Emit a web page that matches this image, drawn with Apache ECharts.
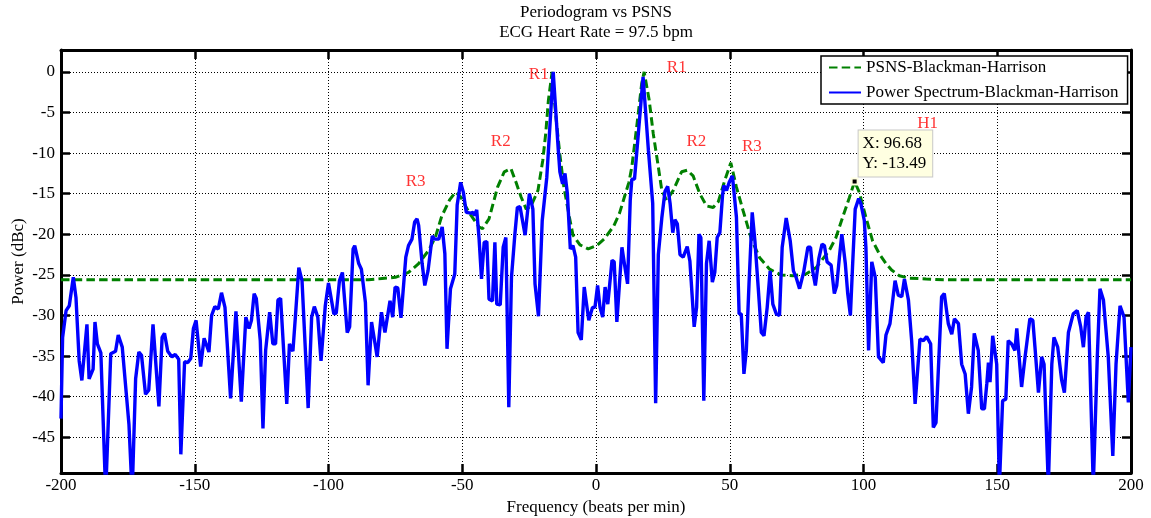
<!DOCTYPE html>
<html>
<head>
<meta charset="utf-8">
<script src="https://cdn.jsdelivr.net/npm/echarts@6.0.0/dist/echarts.min.js"></script>
<style>
  html, body { margin: 0; padding: 0; background: #ffffff; }
  #chart { width: 1151px; height: 518px; }
</style>
</head>
<body>
<div id="chart"></div>
<script>
// ---- Chart data ----------------------------------------------------------
const titleLines = ['Periodogram vs PSNS', 'ECG Heart Rate = 97.5 bpm'];
const seriesNames = ['PSNS-Blackman-Harrison', 'Power Spectrum-Blackman-Harrison'];

// PSNS envelope: [frequency (bpm), power (dBc)]
const psnsPoints = [
  [-200, -25.6], [-150, -25.6], [-100, -25.6], [-85, -25.6], [-80, -25.45], [-75, -25.3],
  [-70.1, -24.7], [-66.3, -23.6], [-62.6, -22.0], [-60.1, -20.4], [-57.7, -17.8], [-54.8, -15.8],
  [-52.5, -14.8], [-50.6, -15.4], [-47.5, -17.3], [-43.7, -19.1], [-42.4, -19.3], [-40.0, -18.1],
  [-36.8, -14.2], [-34.3, -12.3], [-31.8, -11.9], [-29.9, -13.6], [-28.0, -15.4], [-26.1, -16.9],
  [-24.3, -16.5], [-21.7, -14.6], [-19.9, -10.9], [-18.8, -7.6], [-17.8, -3.5], [-16.4, 0],
  [-15.0, -5.5], [-13.5, -10.2], [-12.0, -14.2], [-10.0, -17.8], [-8.6, -20.1], [-6.0, -21.3],
  [-2.9, -21.8], [0.2, -21.4], [3.0, -20.6], [6.6, -19.0], [8.8, -17.4], [10.9, -15.1],
  [12.3, -13.6], [13.4, -11.7], [15.2, -6.8], [17.1, -1.4], [18.0, 0], [19.9, -3.5],
  [21.4, -7.6], [23.3, -11.7], [24.6, -14.6], [26.4, -15.8], [28.9, -14.6], [32.0, -12.3],
  [34.1, -12.1], [36.3, -12.8], [38.8, -15.0], [41.3, -16.5], [43.8, -16.7], [45.7, -16.0],
  [48.1, -13.4], [50.4, -11.2], [52.5, -14.2], [55.0, -17.1], [58.1, -20.6], [61.2, -22.9],
  [64.9, -24.3], [69.2, -25.0], [73.6, -25.1], [78.5, -24.9], [82.3, -24.1], [87.2, -22.0],
  [89.7, -20.4], [92.2, -17.9], [94.7, -15.5], [96.68, -13.49], [98.4, -14.8], [100.9, -17.9],
  [103.4, -20.8], [105.9, -22.4], [108.4, -23.6], [110.5, -24.4], [113.4, -25.1], [117.0, -25.4],
  [123.4, -25.5], [130, -25.6], [150, -25.6], [200, -25.6]
];

// Periodogram: [frequency (bpm), power (dBc)]
const spectrumPoints = [
  [-200, -42.7], [-199.4, -32.7], [-198.1, -29.4], [-196.9, -28.8], [-195.4, -25.3], [-194.4, -27.8],
  [-193.2, -35.6], [-192.2, -38.0], [-190.3, -31.1], [-189.5, -37.8], [-188.0, -36.6], [-187.3, -30.8],
  [-186.4, -33.5], [-185.1, -34.6], [-183.3, -52], [-181.4, -34.7], [-179.6, -34.4], [-178.6, -32.4],
  [-177.1, -33.9], [-174.6, -43.4], [-173.4, -52], [-172.1, -37.8], [-170.9, -34.5], [-169.9, -34.9],
  [-168.4, -39.7], [-167.2, -39.2], [-165.6, -31.1], [-163.4, -41.2], [-162.2, -32.7], [-161.3, -32.2],
  [-160.1, -34.4], [-158.5, -35.1], [-157.3, -34.8], [-156.0, -35.4], [-155.2, -47.1], [-153.8, -35.7],
  [-152.6, -35.8], [-151.5, -35.3], [-150.5, -31.6], [-149.5, -30.6], [-147.8, -36.3], [-146.5, -32.8],
  [-144.7, -34.5], [-143.7, -30.0], [-142.5, -28.9], [-141.2, -29.2], [-140.0, -27.2], [-138.7, -29.0],
  [-136.6, -40.2], [-134.6, -29.5], [-132.6, -40.6], [-130.9, -30.2], [-129.7, -31.6], [-128.8, -30.6],
  [-127.8, -27.3], [-127.0, -27.9], [-125.5, -33.1], [-124.5, -43.9], [-123.5, -34.3], [-122.0, -29.6],
  [-120.8, -33.5], [-119.8, -33.5], [-118.9, -28.1], [-117.9, -27.9], [-115.6, -40.9], [-114.6, -33.5],
  [-113.3, -34.4], [-112.3, -29.8], [-111.1, -24.1], [-109.9, -25.7], [-107.6, -41.4], [-106.3, -30.2],
  [-105.3, -28.9], [-104.0, -30.2], [-102.8, -35.6], [-101.2, -28.8], [-100.0, -26.0], [-98.0, -29.8],
  [-97.1, -29.7], [-95.9, -25.7], [-94.8, -24.7], [-93.0, -32.1], [-92.1, -31.4], [-90.8, -21.8],
  [-90.2, -21.4], [-88.7, -23.6], [-87.7, -24.3], [-86.2, -28.4], [-85.2, -38.6], [-83.9, -30.8],
  [-81.8, -35.1], [-80.2, -29.6], [-78.9, -32.1], [-77.0, -28.2], [-76.0, -30.2], [-75.1, -26.5],
  [-74.1, -26.6], [-72.9, -30.3], [-71.1, -22.8], [-70.1, -21.4], [-68.8, -20.6], [-67.8, -18.5],
  [-66.9, -18.1], [-66.3, -18.9], [-65.0, -23.6], [-64.0, -26.3], [-62.8, -24.5], [-61.2, -20.2],
  [-60.3, -20.6], [-58.8, -20.6], [-57.5, -19.1], [-56.5, -22.4], [-55.7, -34.1], [-54.4, -26.7],
  [-52.8, -24.9], [-51.9, -16.4], [-50.6, -13.6], [-49.6, -14.8], [-48.5, -17.3], [-46.8, -17.4],
  [-45.9, -17.3], [-45.4, -17.7], [-44.6, -17.0], [-43.7, -20.6], [-42.8, -25.5], [-41.8, -21.0],
  [-40.8, -20.9], [-40.0, -28.0], [-38.7, -28.2], [-37.8, -21.0], [-37.1, -28.6], [-35.8, -28.7],
  [-34.7, -21.6], [-33.7, -20.4], [-32.6, -41.3], [-31.6, -25.3], [-30.3, -19.9], [-29.4, -16.7],
  [-28.4, -16.6], [-26.5, -20.1], [-24.9, -15.0], [-23.6, -16.9], [-22.8, -26.1], [-21.5, -30.1],
  [-20.1, -18.3], [-18.4, -13.0], [-16.0, 0], [-14.1, -9.6], [-13.5, -12.3], [-12.5, -13.8],
  [-11.6, -12.5], [-10.7, -15.0], [-9.6, -21.8], [-8.6, -21.4], [-7.6, -22.8], [-6.7, -32.1],
  [-5.5, -33.0], [-4.4, -26.5], [-2.7, -30.6], [-1.3, -29.0], [-0.4, -29.0], [0.6, -26.3],
  [1.5, -29.0], [2.5, -30.2], [3.4, -26.5], [4.4, -28.6], [6.0, -23.2], [6.8, -23.4],
  [7.8, -30.8], [8.4, -30.8], [9.7, -21.6], [10.7, -23.8], [11.8, -26.1], [12.8, -15.8],
  [13.4, -13.2], [14.4, -13.2], [17.6, -0.6], [19.6, -9.7], [21.2, -16.2], [22.3, -40.8],
  [23.3, -22.5], [24.6, -18.0], [25.8, -14.7], [26.8, -14.1], [27.7, -16.2], [28.7, -19.8],
  [29.5, -18.2], [30.4, -18.7], [31.4, -22.5], [32.6, -22.8], [34.1, -21.5], [35.1, -23.3],
  [36.7, -31.4], [37.6, -29.0], [38.5, -20.0], [39.2, -20.4], [40.3, -40.5], [41.3, -23.6],
  [42.3, -20.8], [43.5, -25.9], [44.4, -24.7], [45.3, -20.4], [46.3, -19.8], [47.3, -15.2],
  [47.8, -14.0], [48.8, -14.6], [49.8, -13.6], [51.0, -12.8], [52.5, -17.9], [53.5, -29.8],
  [54.3, -29.8], [55.3, -37.2], [56.2, -34.3], [57.2, -26.1], [58.4, -17.3], [59.4, -20.8],
  [60.5, -25.9], [61.8, -32.1], [62.8, -32.5], [64.0, -29.0], [65.1, -24.5], [66.1, -28.6],
  [67.4, -29.8], [68.6, -30.0], [69.6, -21.6], [71.1, -18.0], [72.6, -20.8], [73.8, -24.5],
  [74.8, -25.3], [76.1, -26.7], [77.6, -24.7], [79.2, -21.6], [80.2, -21.6], [81.0, -24.5],
  [82.0, -26.3], [83.3, -23.0], [84.5, -21.2], [85.4, -21.4], [86.4, -23.4], [87.9, -23.8],
  [89.1, -27.3], [90.0, -26.3], [91.0, -22.8], [91.9, -20.0], [93.2, -23.6], [94.1, -27.3],
  [95.1, -30.0], [95.9, -24.0], [96.9, -16.9], [98.2, -15.6], [99.0, -16.2], [100.3, -18.3],
  [100.9, -21.6], [101.9, -34.3], [103.1, -23.4], [104.4, -25.3], [105.6, -35.1], [107.4, -35.8],
  [108.4, -32.4], [109.9, -31.0], [111.8, -25.7], [113.0, -27.5], [114.3, -27.7], [115.3, -25.5],
  [116.8, -28.1], [118.0, -33.1], [119.3, -40.9], [121.1, -32.9], [122.4, -33.1], [123.6, -32.6],
  [125.1, -33.5], [126.1, -43.8], [127.1, -43.2], [129.2, -27.7], [130.2, -27.3], [131.7, -31.0],
  [133.0, -32.3], [134.0, -30.4], [135.5, -31.0], [136.7, -36.0], [138.0, -37.2], [139.2, -42.1],
  [140.4, -38.8], [141.4, -32.2], [142.9, -34.3], [144.2, -41.5], [145.2, -41.5], [146.1, -38.4],
  [146.7, -35.8], [147.3, -38.2], [148.3, -32.5], [149.8, -36.0], [150.8, -51], [152.0, -40.5],
  [153.2, -40.3], [154.1, -33.1], [155.4, -33.5], [156.6, -34.3], [157.3, -31.6], [159.1, -38.8],
  [160.4, -35.1], [162.2, -30.4], [163.3, -30.6], [164.1, -33.9], [165.4, -39.5], [166.6, -35.1],
  [167.5, -36.0], [169.1, -51], [170.4, -36.0], [171.2, -32.7], [172.6, -33.9], [174.1, -38.0],
  [175.1, -39.5], [176.6, -32.1], [178.4, -29.8], [179.9, -29.4], [181.2, -31.4], [182.2, -33.9],
  [183.2, -30.2], [184.1, -29.6], [185.9, -51], [187.4, -35.1], [188.4, -26.7], [189.7, -28.1],
  [191.5, -35.1], [193.2, -47.3], [194.4, -36.0], [195.9, -28.8], [197.4, -30.2], [199.0, -40.7],
  [200, -33.9]
];

// Peak annotations (text, frequency, level)
const peakNames  = ['R1', 'R1', 'R2', 'R2', 'R3', 'R3', 'H1'];
const peakFreqs  = [-21.4, 30.2, -35.6, 37.5, -67.4, 58.3, 124.0];
const peakLevels = [-0.3, 0.6, -8.6, -8.6, -13.5, -9.2, -6.4];

// Data cursor on the PSNS curve
const cursorFreq = 96.68;
const cursorPower = -13.49;

// Axis ranges and ticks
const xRange = [-200, 200];
const xStep = 50;
const yRange = [-49.4, 2.7];
const yTicks = [-45, -40, -35, -30, -25, -20, -15, -10, -5, 0];

// ---- Styling ---------------------------------------------------------------
const FONT = 'Liberation Serif, Times New Roman, serif';
const FONT_SIZE = 17;
const INK = '#000000';
const FRAME_W = 3;

const frameLine = { show: true, onZero: false, lineStyle: { color: INK, width: FRAME_W } };
const frameTick = { show: true, inside: true, length: 9, lineStyle: { color: INK, width: 2.5 } };
const gridDots = { show: true, lineStyle: { color: INK, width: 1, type: [1, 2] } };
const tickText = { color: INK, fontFamily: FONT, fontSize: FONT_SIZE };

const chart = echarts.init(document.getElementById('chart'), null, { renderer: 'canvas' });

chart.setOption({
  animation: false,
  backgroundColor: '#ffffff',
  title: {
    text: titleLines.join('\n'),
    left: 596,
    top: 3,
    padding: 0,
    textAlign: 'center',
    textStyle: { color: INK, fontFamily: FONT, fontSize: FONT_SIZE, fontWeight: 'normal', lineHeight: 20 }
  },
  legend: {
    data: seriesNames,
    orient: 'vertical',
    left: 821,
    top: 56,
    padding: [3, 9, 3, 7],
    itemGap: 8,
    itemWidth: 32,
    itemHeight: 16,
    itemTextGap: 5,
    itemStyle: { opacity: 0 },
    backgroundColor: '#ffffff',
    borderColor: INK,
    borderWidth: 1.5,
    borderRadius: 0,
    textStyle: { color: INK, fontFamily: FONT, fontSize: FONT_SIZE }
  },
  grid: { left: 61, right: 20, top: 50, bottom: 45, containLabel: false, outerBoundsMode: 'none' },
  xAxis: [
    {
      type: 'value', position: 'bottom', min: xRange[0], max: xRange[1], interval: xStep,
      axisLine: frameLine, axisTick: frameTick, splitLine: gridDots,
      axisLabel: Object.assign({ margin: 4 }, tickText),
      name: 'Frequency (beats per min)', nameLocation: 'middle', nameGap: 21,
      nameTextStyle: { color: INK, fontFamily: FONT, fontSize: FONT_SIZE }
    },
    {
      type: 'value', position: 'top', min: xRange[0], max: xRange[1], interval: xStep,
      axisLine: frameLine, axisTick: frameTick, splitLine: { show: false },
      axisLabel: { show: false }
    }
  ],
  yAxis: [
    {
      type: 'value', position: 'left', min: yRange[0], max: yRange[1],
      axisLine: frameLine,
      axisTick: Object.assign({ customValues: yTicks }, frameTick),
      splitLine: gridDots,
      axisLabel: Object.assign({ margin: 6, customValues: yTicks }, tickText),
      name: 'Power (dBc)', nameLocation: 'middle', nameGap: 34, nameRotate: 90,
      nameMoveOverlap: false,
      nameTextStyle: { color: INK, fontFamily: FONT, fontSize: FONT_SIZE }
    },
    {
      type: 'value', position: 'right', min: yRange[0], max: yRange[1],
      axisLine: frameLine,
      axisTick: Object.assign({ customValues: yTicks }, frameTick),
      splitLine: { show: false },
      axisLabel: { show: false, customValues: yTicks }
    }
  ],
  series: [
    {
      name: seriesNames[0],
      type: 'line',
      data: psnsPoints,
      showSymbol: false,
      symbol: 'none',
      clip: true,
      lineStyle: { color: '#008000', width: 3, type: [8.5, 4.2] },
      itemStyle: { color: '#008000' },
      z: 3,
      markPoint: {
        symbol: 'rect',
        symbolSize: 6,
        itemStyle: { color: '#000000', borderColor: '#ffffe1', borderWidth: 2, opacity: 1 },
        z: 10,
        data: [{
          coord: [cursorFreq, cursorPower],
          label: {
            show: true,
            formatter: 'X: ' + cursorFreq.toFixed(2) + '\nY: ' + cursorPower.toFixed(2),
            position: [8, -1],
            align: 'left',
            verticalAlign: 'bottom',
            color: INK,
            fontFamily: FONT,
            fontSize: FONT_SIZE,
            lineHeight: 20,
            backgroundColor: '#ffffe1',
            borderColor: '#c8c8c8',
            borderWidth: 1,
            padding: [3, 6, 3, 4]
          }
        }]
      }
    },
    {
      name: seriesNames[1],
      type: 'line',
      data: spectrumPoints,
      showSymbol: false,
      symbol: 'none',
      clip: true,
      lineStyle: { color: '#0000ff', width: 3.4 },
      itemStyle: { color: '#0000ff' },
      z: 4
    },
    {
      name: 'peaks',
      type: 'scatter',
      data: peakNames.map((n, i) => ({ name: n, value: [peakFreqs[i], peakLevels[i]] })),
      symbolSize: 1,
      itemStyle: { color: 'rgba(0,0,0,0)' },
      silent: true,
      z: 5,
      label: {
        show: true,
        position: 'inside',
        formatter: p => p.name,
        color: '#ff0000',
        fontFamily: FONT,
        fontSize: FONT_SIZE
      }
    }
  ]
});
</script>
</body>
</html>
